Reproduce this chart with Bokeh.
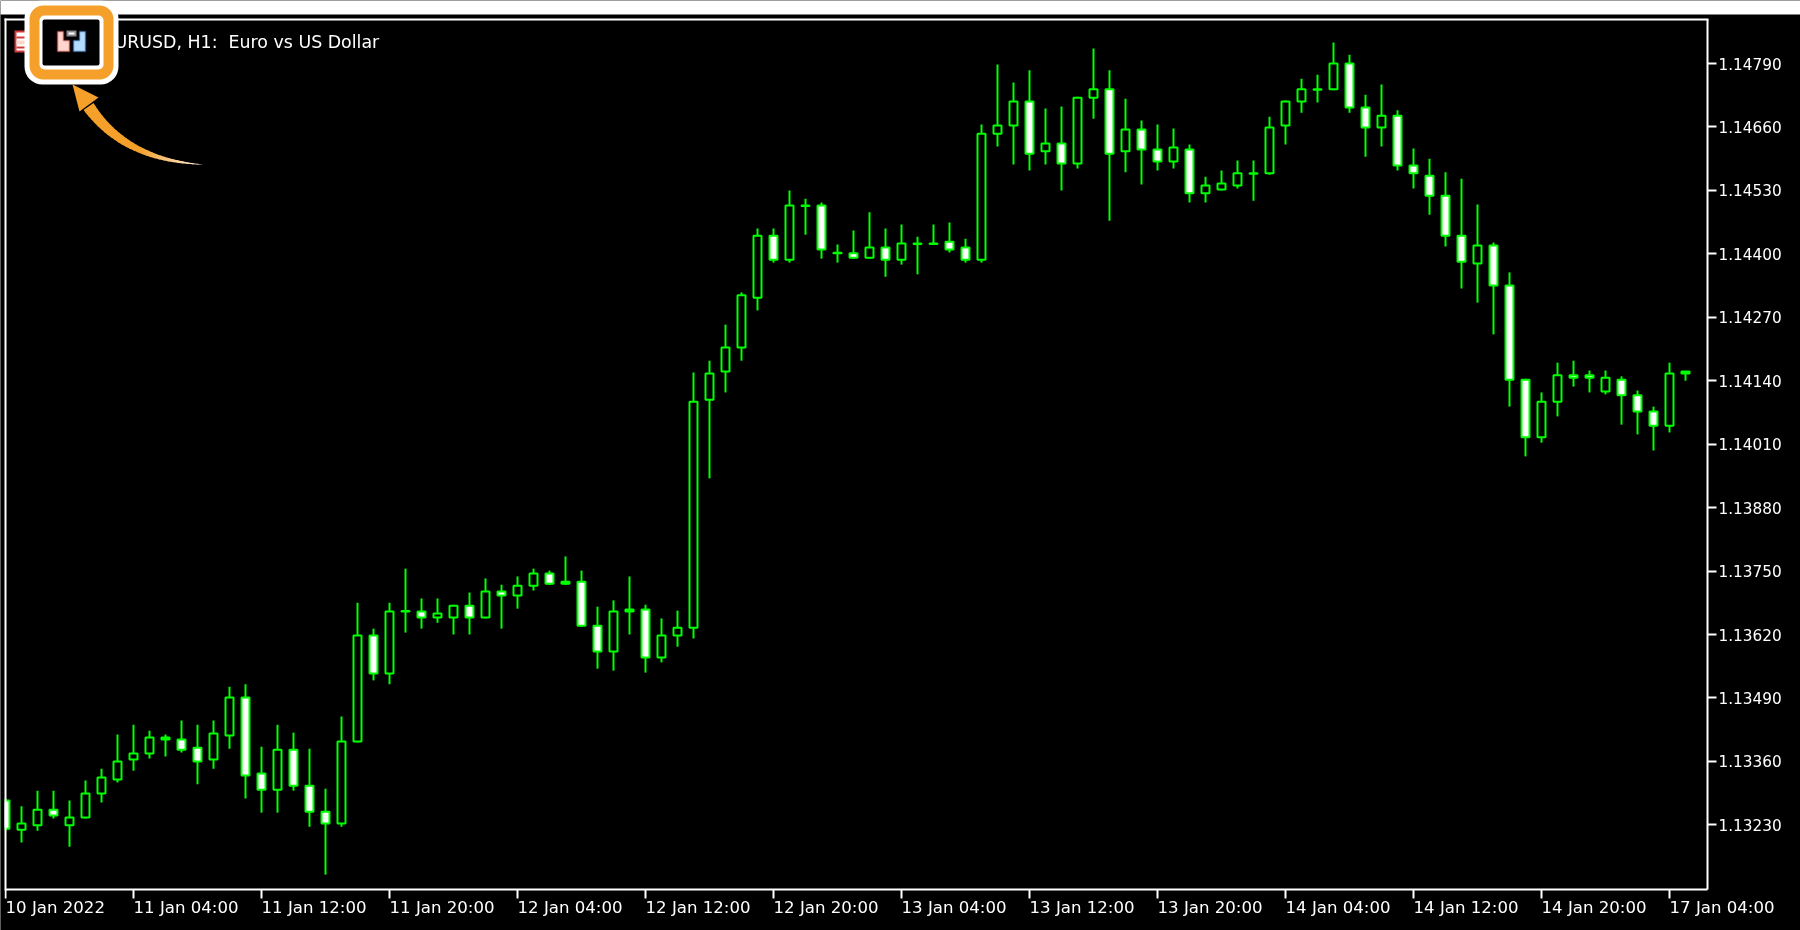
from bokeh.plotting import figure
from bokeh.models import (ColumnDataSource, Range1d, FixedTicker, NumeralTickFormatter,
                          BoxAnnotation, PolyAnnotation, Label)
from bokeh.embed import file_html
from bokeh.resources import INLINE

# EURUSD H1 candles, prices in points (price x 100000)
open_pts = [113280,113220,113229,113261,113229,113245,113294,113323,113364,113376,113409,113405,113388,113364,113413,113491,113335,113302,113384,113310,113257,113233,113401,113618,113540,113667,113667,113655,113655,113679,113655,113708,113700,113720,113745,113728,113728,113638,113585,113671,113671,113573,113618,113634,114101,114159,114208,114310,114437,114388,114498,114499,114402,114401,114392,114413,114388,114420,114420,114425,114413,114388,114646,114663,114712,114610,114626,114585,114720,114737,114610,114655,114614,114589,114614,114524,114532,114540,114564,114565,114663,114712,114736,114737,114790,114700,114659,114683,114581,114560,114519,114437,114380,114417,114335,114142,114024,114097,114151,114151,114118,114142,114110,114077,114048,114159]
high_pts = [113284,113268,113300,113300,113280,113321,113345,113415,113435,113423,113415,113444,113435,113444,113513,113518,113390,113435,113419,113386,113304,113452,113685,113632,113685,113755,113694,113694,113681,113706,113735,113722,113739,113755,113751,113780,113751,113677,113690,113739,113681,113653,113669,114157,114181,114255,114321,114452,114452,114530,114513,114505,114419,114448,114485,114452,114460,114435,114460,114464,114431,114665,114788,114751,114776,114698,114702,114722,114821,114776,114718,114673,114665,114657,114624,114558,114571,114591,114591,114681,114714,114759,114767,114833,114808,114726,114747,114694,114616,114595,114567,114554,114501,114423,114362,114144,114116,114177,114181,114161,114161,114149,114120,114087,114177,114159]
low_pts = [113218,113194,113218,113243,113185,113243,113276,113317,113341,113366,113370,113378,113313,113345,113386,113284,113255,113255,113300,113226,113128,113226,113399,113526,113518,113624,113632,113644,113620,113620,113653,113632,113673,113710,113722,113722,113636,113550,113546,113620,113542,113563,113595,113612,113940,114116,114181,114284,114382,114382,114439,114390,114382,114390,114390,114353,114378,114358,114419,114403,114382,114382,114620,114583,114571,114583,114530,114575,114677,114468,114567,114542,114571,114575,114505,114505,114530,114534,114509,114562,114624,114689,114710,114735,114689,114599,114620,114571,114534,114480,114415,114329,114300,114235,114087,113985,114013,114067,114128,114116,114112,114050,114030,113997,114034,114140]
close_pts = [113222,113233,113261,113249,113245,113294,113327,113360,113376,113409,113405,113384,113360,113417,113491,113331,113302,113384,113310,113257,113233,113401,113618,113540,113667,113668,113655,113663,113679,113655,113708,113700,113720,113745,113724,113724,113638,113585,113667,113667,113573,113618,113634,114097,114155,114208,114315,114437,114388,114499,114499,114409,114401,114392,114413,114388,114421,114421,114421,114409,114388,114646,114663,114712,114605,114626,114585,114720,114737,114605,114655,114614,114589,114618,114524,114540,114544,114565,114565,114659,114712,114737,114737,114790,114700,114659,114683,114581,114565,114519,114437,114384,114417,114335,114142,114024,114097,114151,114146,114146,114146,114110,114077,114048,114155,114155]

time_labels = ["10 Jan 2022","11 Jan 04:00","11 Jan 12:00","11 Jan 20:00","12 Jan 04:00","12 Jan 12:00",
               "12 Jan 20:00","13 Jan 04:00","13 Jan 12:00","13 Jan 20:00","14 Jan 04:00","14 Jan 12:00",
               "14 Jan 20:00","17 Jan 04:00"]
time_label_bars = [0,8,16,24,32,40,48,56,64,72,80,88,96,104]
price_ticks = [1.13230,1.13360,1.13490,1.13620,1.13750,1.13880,1.14010,1.14140,1.14270,1.14400,1.14530,1.14660,1.14790]
symbol_title = "EURUSD, H1: \u00a0Euro vs US Dollar"

GREEN = "#00ff00"
ORANGE = "#f5a02a"
FONT = "DejaVu Sans"

bars = list(range(len(open_pts)))
src = ColumnDataSource(dict(
    x=bars,
    left=[b - 0.25 for b in bars],
    right=[b + 0.25 for b in bars],
    top=[max(o, c) / 1e5 for o, c in zip(open_pts, close_pts)],
    bottom=[min(o, c) / 1e5 for o, c in zip(open_pts, close_pts)],
    high=[v / 1e5 for v in high_pts],
    low=[v / 1e5 for v in low_pts],
    fill=["#000000" if c > o else "#ffffff" for o, c in zip(open_pts, close_pts)],
))

# the frame fills the whole canvas, so that the overlay may reach above the chart area
X_LAST = 106.375
Y_LOW, Y_HIGH = 1.130975, 1.14880
p = figure(width=1800, height=930, output_backend="svg", toolbar_location=None,
           x_range=Range1d(-0.3125, 112.1875), y_range=Range1d(1.130135, 1.149191),
           y_axis_location="right", min_border=0,
           background_fill_color="#000000", border_fill_color="#000000",
           outline_line_color=None,
           styles={"position": "fixed", "left": "0", "top": "0"})
p.grid.visible = False

p.segment("x", "high", "x", "low", source=src, line_color=GREEN, line_width=2)
p.quad(left="left", right="right", top="top", bottom="bottom", source=src,
       fill_color="fill", line_color=GREEN, line_width=2)

for ax in (p.xaxis[0], p.yaxis[0]):
    ax.axis_line_color = "#ffffff"
    ax.axis_line_width = 2
    ax.major_tick_line_color = "#ffffff"
    ax.major_tick_line_width = 2
    ax.major_tick_in = 0
    ax.major_tick_out = 9
    ax.minor_tick_line_color = None
    ax.major_label_text_color = "#ffffff"
    ax.major_label_text_font = FONT
    ax.major_label_text_font_size = "15.3px"

p.xaxis[0].fixed_location = Y_LOW
p.xaxis[0].bounds = (0, X_LAST)
p.xaxis[0].ticker = FixedTicker(ticks=time_label_bars)
p.xaxis[0].major_label_overrides = {b: "" for b in time_label_bars}
p.yaxis[0].fixed_location = X_LAST
p.yaxis[0].bounds = (Y_LOW, Y_HIGH)
p.yaxis[0].ticker = FixedTicker(ticks=price_ticks)
p.yaxis[0].formatter = NumeralTickFormatter(format="0.00000")
p.yaxis[0].major_label_standoff = 2

# the time labels start at their tick instead of being centred on it
for b, txt in zip(time_label_bars, time_labels):
    p.add_layout(Label(x=b, y=907, x_units="data", y_units="canvas", text=txt,
                       text_color="#ffffff", text_font=FONT, text_font_size="16.6px",
                       text_align="left", text_baseline="middle"))


def box(left, right, top, bottom, color, radius=0, level="overlay"):
    p.add_layout(BoxAnnotation(left=left, right=right, top=top, bottom=bottom,
                               left_units="canvas", right_units="canvas",
                               top_units="canvas", bottom_units="canvas",
                               fill_color=color, fill_alpha=1, line_color=None,
                               border_radius=radius, level=level))


def poly(points, fill, line=None, width=1):
    p.add_layout(PolyAnnotation(xs=[q[0] for q in points], ys=[q[1] for q in points],
                                xs_units="canvas", ys_units="canvas",
                                fill_color=fill, fill_alpha=1, line_color=line,
                                line_width=width, level="overlay"))


# chart area edge: the first candle is cut at the left line
box(0, 4, 14, 930, "#000000")
box(4, 6, 18, 890, "#ffffff")
box(4, 1708, 18, 20, "#ffffff")

# window strip above the chart
box(0, 1800, 0, 14, "#ffffff")

# title text and the symbol icon at its left
p.add_layout(Label(x=103, y=41, x_units="canvas", y_units="canvas", text=symbol_title,
                   text_color="#ffffff", text_font=FONT, text_font_size="17.4px",
                   text_baseline="middle", level="overlay"))
box(14, 26, 30, 52, "#d23a3a")
box(16, 26, 32, 50, "#ffffff")
box(16, 26, 36, 38, "#d23a3a")
box(16, 26, 40, 44, "#ffd5cc")
box(16, 26, 46, 48, "#d23a3a")

# highlight frame
box(24, 118, 0, 84, "#ffffff", 18)
box(29, 113, 5, 79, ORANGE, 14)
box(39, 103, 15, 69, "#ffffff", 5)
box(42, 99, 19, 65, "#000000", 2)

# toolbar icon inside the frame
poly([(57, 31), (63, 31), (63, 40), (69, 40), (69, 51), (57, 51)], "#ffd5cc", "#c8342e", 2)
poly([(85, 31), (79, 31), (79, 40), (73, 40), (73, 51), (85, 51)], "#b5dcff", "#1a5fa5", 2)
box(66, 76, 30, 36, "#8c8c8c")
box(68, 74, 32, 34, "#ffffff")

# curved tapered arrow
P0, P1, P2 = (203, 164), (125, 160), (88, 106)


def bez(t):
    a, b, c = (1 - t) ** 2, 2 * t * (1 - t), t ** 2
    return (a * P0[0] + b * P1[0] + c * P2[0], a * P0[1] + b * P1[1] + c * P2[1])


def edge(t):
    x, y = bez(t)
    dx = 2 * (1 - t) * (P1[0] - P0[0]) + 2 * t * (P2[0] - P1[0])
    dy = 2 * (1 - t) * (P1[1] - P0[1]) + 2 * t * (P2[1] - P1[1])
    n = (dx * dx + dy * dy) ** 0.5
    w = 6 * t ** 0.9
    return (x - dy / n * w, y + dx / n * w), (x + dy / n * w, y - dx / n * w)


N = 30
for k in range(N):
    t0, t1 = k / N, (k + 1) / N + 0.01
    a0, b0 = edge(t0)
    a1, b1 = edge(min(t1, 1))
    f = min(1, t0 / 0.45)
    col = "#%02x%02x%02x" % (int(255 - 10 * f), int(238 - 78 * f), int(215 - 173 * f))
    poly([a0, a1, b1, b0], col)
poly([(72, 84), (98, 97), (79, 111)], ORANGE)

open("out.html", "w").write(file_html(p, INLINE))
